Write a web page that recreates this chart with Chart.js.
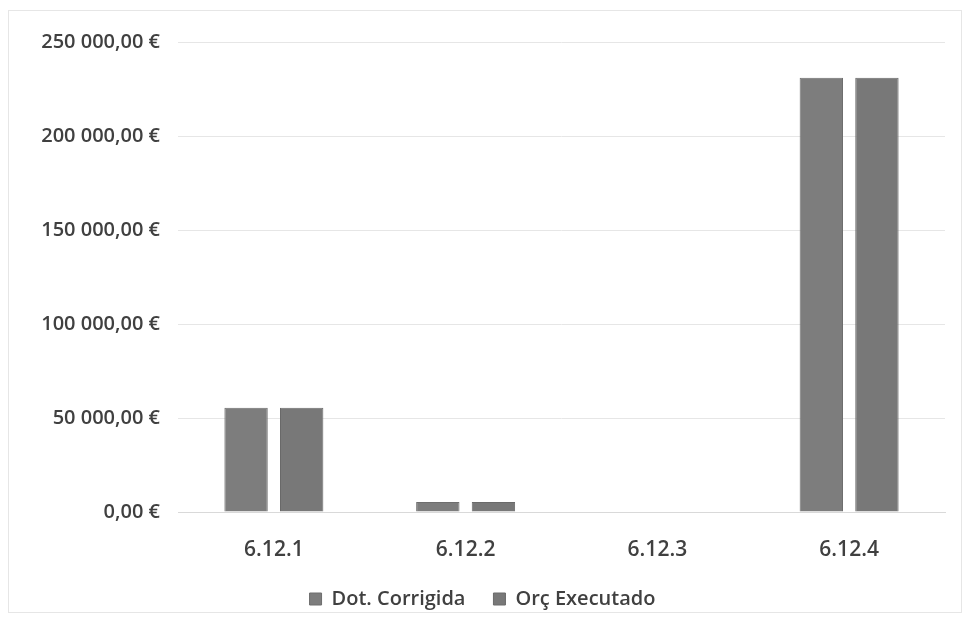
<!DOCTYPE html>
<html>
<head>
<meta charset="utf-8">
<script src="https://cdn.jsdelivr.net/npm/chart.js@4/dist/chart.umd.min.js"></script>
<style>
  html, body { margin: 0; padding: 0; background: #fff; }
  #wrap { position: relative; width: 967px; height: 629px; }
  #frame { position: absolute; left: 8px; top: 10px; width: 954px; height: 603px; border: 1px solid #e6e6e6; box-sizing: border-box; }
</style>
</head>
<body>
<div id="wrap">
  <div id="frame"></div>
  <canvas id="chart" width="967" height="629"></canvas>
</div>
<script>
const categories = ['6.12.1', '6.12.2', '6.12.3', '6.12.4']
const dotCorrigida = [55500, 5300, 0, 231000]
const orcExecutado = [55500, 5300, 0, 231000]
const yTicks = [0, 50000, 100000, 150000, 200000, 250000]

function euro(v) {
  const s = Math.round(v).toString().replace(/\B(?=(\d{3})+(?!\d))/g, ' ')
  return s + ',00 €'
}

const font = { family: '"Open Sans", Calibri, sans-serif', size: 20, weight: '600' }

new Chart(document.getElementById('chart'), {
  type: 'bar',
  data: {
    labels: categories,
    datasets: [
      {
        label: 'Dot. Corrigida',
        data: dotCorrigida,
        backgroundColor: '#7d7d7d',
        borderColor: '#6e6e6e',
        borderWidth: 1
      },
      {
        label: 'Orç Executado',
        data: orcExecutado,
        backgroundColor: '#787878',
        borderColor: '#6a6a6a',
        borderWidth: 1
      }
    ]
  },
  options: {
    responsive: false,
    animation: false,
    categoryPercentage: 0.58,
    barPercentage: 0.78,
    layout: { padding: { left: 20, right: 22, top: 42, bottom: 10 } },
    plugins: {
      tooltip: { enabled: false },
      legend: {
        position: 'bottom',
        labels: {
          color: '#404040',
          font: font,
          boxWidth: 12,
          boxHeight: 12,
          padding: 28
        }
      }
    },
    scales: {
      x: {
        grid: { display: false, drawTicks: false },
        border: { color: '#d9d9d9' },
        ticks: { color: '#404040', font: { ...font, size: 21 }, padding: 25 },
        afterFit: (axis) => { axis.height = 49 }
      },
      y: {
        min: 0,
        max: 250000,
        afterBuildTicks: (axis) => { axis.ticks = yTicks.map(v => ({ value: v })) },
        afterFit: (axis) => { axis.width = 158 },
        grid: { color: '#e6e6e6', drawTicks: false },
        border: { display: false },
        ticks: {
          color: '#404040',
          font: font,
          padding: 18,
          callback: (v) => euro(v)
        }
      }
    }
  }
})
</script>
</body>
</html>
